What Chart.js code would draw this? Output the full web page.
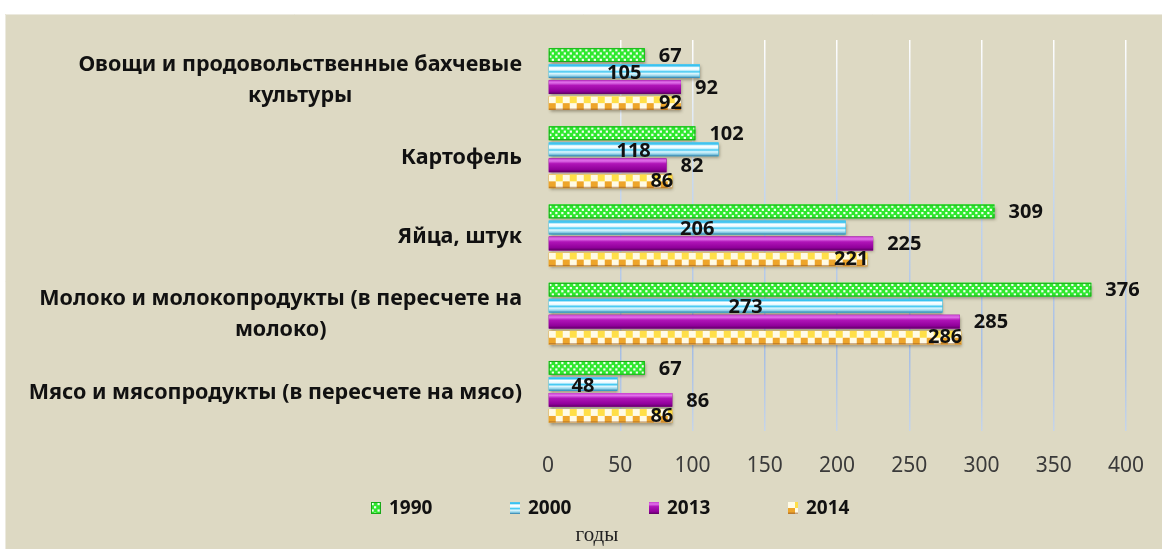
<!DOCTYPE html>
<html><head><meta charset="utf-8">
<script src="https://cdn.jsdelivr.net/npm/chart.js@4.4.1/dist/chart.umd.min.js"></script>
<style>html,body{margin:0;padding:0;background:#fff;overflow:hidden}canvas{display:block}</style>
</head><body>
<canvas id="c" width="1162" height="549" style="width:1162px;height:549px"></canvas>
<script>
// ---- data ----
const categories = [
  ['Овощи и продовольственные бахчевые', 'культуры'],
  ['Картофель'],
  ['Яйца, штук'],
  ['Молоко и молокопродукты (в пересчете на', 'молоко)'],
  ['Мясо и мясопродукты (в пересчете на мясо)']
];
const seriesNames = ['1990', '2000', '2013', '2014'];
const values1990 = [67, 102, 309, 376, 67];
const values2000 = [105, 118, 206, 273, 48];
const values2013 = [92, 82, 225, 285, 86];
const values2014 = [92, 86, 221, 286, 86];
const xTickValues = [0, 50, 100, 150, 200, 250, 300, 350, 400];
const axisTitle = 'годы';

// ---- styling ----
const W = 1162, H = 549;
const canvas = document.getElementById('c');
const cx0 = canvas.getContext('2d');
const gridGrad = cx0.createLinearGradient(0, 40, 0, 431);
gridGrad.addColorStop(0, '#ffffff');
gridGrad.addColorStop(0.35, '#c9daf0');
gridGrad.addColorStop(0.8, '#a6bee4');
gridGrad.addColorStop(1, '#c6d5ea');

const baseColors = ['#2ee82e', '#3cc8f0', '#a010a8', '#f0b030'];
const LABEL_FONT = 'bold 20px "Noto Sans"';
const CAT_FONT = 'bold 21.5px "Noto Sans"';

function paintBar(c, ds, x, y, w, h, shadow) {
  if (w <= 0) return;
  c.save();
  if (shadow) {
    c.shadowColor = 'rgba(60,50,30,0.45)';
    c.shadowBlur = 3; c.shadowOffsetX = 1; c.shadowOffsetY = 2;
    c.fillStyle = baseColors[ds];
    c.fillRect(x, y, w, h);
    c.shadowColor = 'rgba(0,0,0,0)';
  }
  c.beginPath(); c.rect(x, y, w, h); c.clip();
  if (ds === 0) {
    c.fillStyle = '#2ee82e'; c.fillRect(x, y, w, h);
    c.fillStyle = 'rgba(255,255,255,0.95)';
    for (let yy = y + 1, r = 0; yy < y + h - 1; yy += 3.2, r++) {
      for (let xx = x + (r % 2 ? 3 : 0.5); xx < x + w - 1; xx += 6) c.fillRect(xx, yy, 2.2, 2.2);
    }
    c.strokeStyle = '#19a919'; c.lineWidth = 1; c.strokeRect(x + 0.5, y + 0.5, w - 1, h - 1);
  } else if (ds === 1) {
    const g = c.createLinearGradient(0, y, 0, y + h);
    g.addColorStop(0, '#5fc8ee'); g.addColorStop(0.12, '#30c0f0');
    g.addColorStop(0.25, '#ffffff'); g.addColorStop(0.42, '#e6f9ff');
    g.addColorStop(0.55, '#40c8f2'); g.addColorStop(0.68, '#dff6fd');
    g.addColorStop(0.85, '#8fd3ea'); g.addColorStop(1, '#2a7aa6');
    c.fillStyle = g; c.fillRect(x, y, w, h);
  } else if (ds === 2) {
    const g = c.createLinearGradient(0, y, 0, y + h);
    g.addColorStop(0, '#c840d0'); g.addColorStop(0.18, '#e070ea');
    g.addColorStop(0.38, '#b014b8'); g.addColorStop(0.8, '#90009a');
    g.addColorStop(1, '#5c0062');
    c.fillStyle = g; c.fillRect(x, y, w, h);
  } else {
    c.fillStyle = '#fffbe6'; c.fillRect(x, y, w, h);
    const half = h / 2, cw = 7;
    for (let i = 0, xx = x; xx < x + w; xx += cw, i++) {
      c.fillStyle = '#ffdf48';
      if (i % 2 === 1) c.fillRect(xx, y, cw, half);
      c.fillStyle = '#eea52a';
      if (i % 2 === 0) c.fillRect(xx, y + half, cw, h - half);
    }
    c.fillStyle = 'rgba(150,90,40,0.55)'; c.fillRect(x, y + h - 1.5, w, 1.5);
  }
  c.restore();
}

const deco = {
  id: 'deco',
  beforeDraw(chart) {
    const c = chart.ctx; c.save();
    c.fillStyle = '#ffffff'; c.fillRect(0, 0, W, H);
    c.fillStyle = '#ddd9c3'; c.fillRect(5, 14, W - 5, H - 14);
    c.strokeStyle = '#eceadf'; c.lineWidth = 1;
    c.beginPath(); c.moveTo(5.5, H); c.lineTo(5.5, 14.5); c.lineTo(W, 14.5); c.stroke();
    c.restore();
  },
  afterDatasetsDraw(chart) {
    const c = chart.ctx;
    chart.data.datasets.forEach((d, ds) => {
      chart.getDatasetMeta(ds).data.forEach(el => {
        const x = Math.min(el.x, el.base), w = Math.abs(el.x - el.base);
        paintBar(c, ds, x, el.y - el.height / 2, w, el.height, true);
      });
    });
    // value labels
    c.save();
    c.font = LABEL_FONT; c.fillStyle = '#111'; c.textBaseline = 'middle';
    chart.data.datasets.forEach((d, ds) => {
      chart.getDatasetMeta(ds).data.forEach((el, i) => {
        const v = d.data[i];
        if (ds === 0 || ds === 2) { c.textAlign = 'left'; c.fillText(v, el.x + 14, el.y + 1); }
        else if (ds === 1) { c.textAlign = 'center'; c.fillText(v, (el.x + el.base) / 2, el.y + 2); }
        else { c.textAlign = 'right'; c.fillText(v, el.x + 1, el.y); }
      });
    });
    c.restore();
  },
  afterDraw(chart) {
    const c = chart.ctx, ys = chart.scales.y;
    c.save();
    // category labels (lines centred within a right-aligned block)
    c.font = CAT_FONT; c.fillStyle = '#111'; c.textBaseline = 'middle'; c.textAlign = 'center';
    const right = 522, lh = 31;
    chart.data.labels.forEach((lines, i) => {
      const yc = ys.getPixelForValue(i) + 1;
      const widest = Math.max(...lines.map(t => c.measureText(t).width));
      const cx = right - widest / 2;
      lines.forEach((t, k) => c.fillText(t, cx, yc - (lines.length - 1) * lh / 2 + k * lh));
    });
    // legend
    const ly = 508, lx0 = 371, step = 139;
    c.font = 'bold 19px "Noto Sans"'; c.textAlign = 'left';
    chart.data.datasets.forEach((d, ds) => {
      const bx = lx0 + ds * step;
      paintBar(c, ds, bx, ly - 6, 10, 12, false);
      c.fillStyle = '#111';
      c.fillText(d.label, bx + 18, ly + 1);
    });
    // axis caption
    c.font = '21px "Liberation Serif"'; c.textAlign = 'center'; c.fillStyle = '#222';
    c.fillText(axisTitle, 597, 535);
    c.restore();
  }
};

new Chart(canvas, {
  type: 'bar',
  data: {
    labels: categories,
    datasets: [
      { label: seriesNames[0], data: values1990, backgroundColor: baseColors[0] },
      { label: seriesNames[1], data: values2000, backgroundColor: baseColors[1] },
      { label: seriesNames[2], data: values2013, backgroundColor: baseColors[2] },
      { label: seriesNames[3], data: values2014, backgroundColor: baseColors[3] }
    ]
  },
  options: {
    indexAxis: 'y',
    responsive: false,
    animation: false,
    devicePixelRatio: 1,
    datasets: { bar: { categoryPercentage: 0.82, barPercentage: 0.86, borderWidth: 0 } },
    layout: { padding: { left: 5, top: 40, right: 36, bottom: 0 } },
    plugins: { legend: { display: false }, tooltip: { enabled: false }, title: { display: false } },
    scales: {
      y: {
        type: 'category',
        grid: { display: false },
        border: { display: false },
        ticks: { display: false },
        afterFit(s) { s.width = 543; }
      },
      x: {
        type: 'linear', min: 0, max: 400,
        afterBuildTicks(s) { s.ticks = xTickValues.map(v => ({ value: v })); },
        grid: {
          drawTicks: false, lineWidth: 1.5,
          color: (ctx) => ctx.index === 0 ? 'rgba(0,0,0,0)' : gridGrad
        },
        border: { display: false },
        ticks: { padding: 22, color: '#3a3a3a', font: { family: 'Noto Sans', size: 21 } },
        afterFit(s) { s.height = 118; s.paddingLeft = 0; s.paddingRight = 0; }
      }
    }
  },
  plugins: [deco]
});
</script>
</body></html>
